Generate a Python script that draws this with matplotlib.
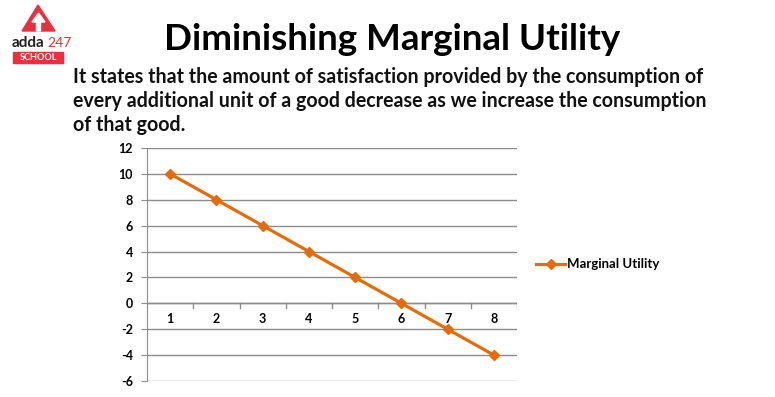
import matplotlib.pyplot as plt
from matplotlib.patches import Polygon, Rectangle

# 数据
units = [1, 2, 3, 4, 5, 6, 7, 8]
marginal_utility = [10, 8, 6, 4, 2, 0, -2, -4]
y_ticks = [12, 10, 8, 6, 4, 2, 0, -2, -4, -6]

title = "Diminishing Marginal Utility"
subtitle = ["It states that the amount of satisfaction provided by the consumption of",
            "every additional unit of a good decrease as we increase the consumption",
            "of that good."]
series_name = "Marginal Utility"

orange = "#E46C0A"
grid_gray = "#8c8c8c"
logo_red = "#e8303f"

plt.rcParams['font.family'] = ['Lato', 'DejaVu Sans']
plt.rcParams['axes.unicode_minus'] = False

fig = plt.figure(figsize=(7.75, 3.97), dpi=100)

# 标题和说明文字
fig.text(0.506, 0.9, title, ha='center', va='center', fontsize=26.5, fontweight='bold', color='black')
for i, line in enumerate(subtitle):
    fig.text(0.094, 0.805 - i * 0.06, line, ha='left', va='center', fontsize=14.1,
             fontweight='bold', color='#111111')

# logo (按像素坐标画)
logo = fig.add_axes([0.0, 1 - 67 / 397, 85 / 775, 67 / 397])
logo.set_xlim(0, 85)
logo.set_ylim(67, 0)
logo.axis('off')
logo.add_patch(Polygon([[38, 5], [22, 31], [55, 31]], closed=True, color=logo_red))
logo.add_patch(Polygon([[38.5, 13], [32, 22], [36.5, 22], [36.5, 31], [40.5, 31], [40.5, 22], [45, 22]],
                       closed=True, color='white'))
logo.text(12, 43, "adda", fontsize=11, fontweight='bold', color='#222222', va='center')
logo.text(47, 43, "247", fontsize=10, color=logo_red, va='center')
logo.add_patch(Rectangle((13, 52), 50, 11, color=logo_red))
logo.text(38, 57.5, "SCHOOL", fontsize=6.5, fontweight='bold', color='white', ha='center', va='center')

# 折线图
ax = fig.add_axes([0.1897, 0.0403, 0.4774, 0.587])
ax.plot(units, marginal_utility, color=orange, linewidth=2.3, marker='D', markersize=5.5,
        label=series_name, zorder=3)
ax.set_xlim(0.5, 8.5)
ax.set_ylim(-6, 12)
ax.set_yticks(y_ticks)
ax.yaxis.grid(True, color=grid_gray, linewidth=1)
ax.set_axisbelow(True)

for s in ['top', 'right', 'bottom']:
    ax.spines[s].set_visible(False)
ax.spines['left'].set_color(grid_gray)
ax.tick_params(axis='y', length=4, color=grid_gray, labelsize=9, pad=6)
for lab in ax.get_yticklabels():
    lab.set_fontweight('bold')

# 横轴在0处, 刻度在类别之间
ax.axhline(0, color=grid_gray, linewidth=1, zorder=1)
ax.set_xticks([])
for b in [1.5, 2.5, 3.5, 4.5, 5.5, 6.5, 7.5, 8.5]:
    ax.plot([b, b], [0, -0.35], color=grid_gray, linewidth=1, zorder=1)
for u in units:
    ax.text(u, -0.75, str(u), ha='center', va='top', fontsize=9, fontweight='bold')

leg = ax.legend(loc='center left', bbox_to_anchor=(1.02, 0.5), frameon=False, fontsize=9.5,
                handlelength=2.2, handletextpad=0.1)
for t in leg.get_texts():
    t.set_fontweight('bold')

fig.savefig("out.png", dpi=100)
